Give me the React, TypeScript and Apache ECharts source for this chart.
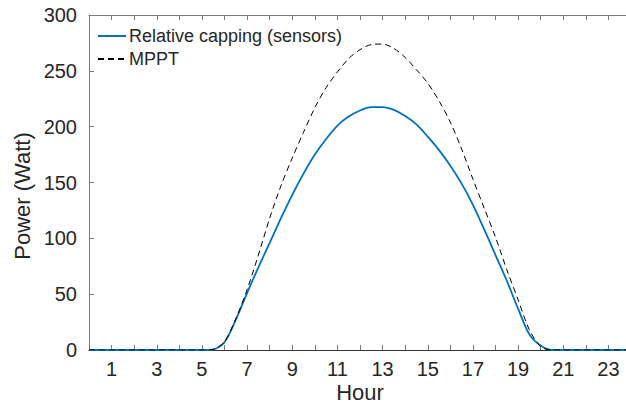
import React, { useEffect, useRef } from "react";
import * as echarts from "echarts";

const hours: number[] = [
  0, 0.5, 1, 1.5, 2, 2.5, 3, 3.5, 4, 4.5, 5, 5.5, 6, 6.5, 7, 7.5, 8, 8.5, 9, 9.5,
  10, 10.5, 11, 11.5, 12, 12.5, 13, 13.5, 14, 14.5, 15, 15.5, 16, 16.5, 17, 17.5,
  18, 18.5, 19, 19.5, 20, 20.5, 21, 21.5, 22, 22.5, 23, 23.5, 24,
];

const cappingSensors: number[] = [
  0, 0, 0, 0, 0, 0, 0, 0, 0, 0, 0, 0.5, 7, 27, 51, 74, 96, 118, 139, 158,
  175, 189, 201, 209, 214.5, 217.5, 217.5, 215, 209.5, 202, 191, 179, 165, 149, 130, 108,
  85, 62, 37, 14, 4, 0, 0, 0, 0, 0, 0, 0, 0,
];

const mppt: number[] = [
  0, 0, 0, 0, 0, 0, 0, 0, 0, 0, 0, 0.5, 7.5, 28, 54, 85, 118, 147, 172, 195,
  217, 235, 249, 261, 269, 273.5, 274, 270, 262, 251, 239, 223, 204, 180, 153, 127,
  101, 72, 45, 18, 3, 0, 0, 0, 0, 0, 0, 0, 0,
];

const seriesNames: string[] = ["Relative capping (sensors)", "MPPT"];
const xLabelHours: number[] = [1, 3, 5, 7, 9, 11, 13, 15, 17, 19, 21, 23];

const FONT = "'Liberation Sans', Arial, Helvetica, sans-serif";
const TEXT = "#262626";
const AXIS = "#7a7a7a";

export default function App() {
  const ref = useRef<HTMLDivElement>(null);
  useEffect(() => {
    if (!ref.current) return;
    const chart = echarts.init(ref.current, undefined, { renderer: "svg" });
    const pairs = (vals: number[]) => hours.map((h, i) => [h, vals[i]]);
    chart.setOption({
      animation: false,
      backgroundColor: "#ffffff",
      textStyle: { fontFamily: FONT, color: TEXT },
      grid: {
        left: 89,
        top: 15,
        right: -5,
        bottom: 54,
        containLabel: false,
        outerBoundsMode: "none",
      },
      legend: {
        orient: "vertical",
        left: 97,
        top: 27,
        itemWidth: 28,
        itemHeight: 10,
        itemGap: 5,
        padding: 0,
        itemStyle: { opacity: 0 },
        textStyle: { fontSize: 18, color: TEXT, fontFamily: FONT, padding: [0, 0, 0, -2] },
        data: seriesNames,
      },
      xAxis: [
        {
          type: "value",
          min: 0,
          max: 24,
          interval: 1,
          position: "bottom",
          name: "Hour",
          nameLocation: "middle",
          nameGap: 31,
          nameMoveOverlap: false,
          nameTextStyle: { fontSize: 22, lineHeight: 22, color: TEXT, fontFamily: FONT, verticalAlign: "top" },
          axisLine: { show: true, lineStyle: { color: "#333333", width: 1 } },
          axisTick: { show: true, inside: true, length: 5, lineStyle: { color: AXIS } },
          axisLabel: {
            fontSize: 20,
            color: TEXT,
            margin: 9,
            formatter: (v: number) => (xLabelHours.includes(v) ? String(v) : ""),
          },
          splitLine: { show: false },
        },
        {
          type: "value",
          min: 0,
          max: 24,
          interval: 1,
          position: "top",
          axisLine: { show: true, lineStyle: { color: AXIS, width: 1 } },
          axisTick: { show: true, inside: true, length: 5, lineStyle: { color: AXIS } },
          axisLabel: { show: false },
          splitLine: { show: false },
        },
      ],
      yAxis: [
        {
          type: "value",
          min: 0,
          max: 300,
          interval: 50,
          axisLine: { show: true, lineStyle: { color: AXIS, width: 1 } },
          axisTick: { show: true, inside: true, length: 5, lineStyle: { color: AXIS } },
          axisLabel: { fontSize: 20, color: TEXT, margin: 12 },
          splitLine: { show: false },
        },
      ],
      graphic: [
        {
          type: "text",
          x: 22,
          y: 196,
          rotation: Math.PI / 2,
          style: {
            text: "Power (Watt)",
            font: `22px ${FONT}`,
            fill: TEXT,
            textAlign: "center",
            textVerticalAlign: "middle",
          },
        },
      ],
      series: [
        {
          name: seriesNames[0],
          type: "line",
          xAxisIndex: 0,
          yAxisIndex: 0,
          data: pairs(cappingSensors),
          symbol: "none",
          showSymbol: false,
          smooth: 0.3,
          lineStyle: { color: "#0072BD", width: 1.8 },
          itemStyle: { color: "#0072BD" },
          z: 2,
        },
        {
          name: seriesNames[1],
          type: "line",
          xAxisIndex: 0,
          yAxisIndex: 0,
          data: pairs(mppt),
          symbol: "none",
          showSymbol: false,
          smooth: 0.3,
          lineStyle: { color: "#000000", width: 1, type: [6, 4] },
          itemStyle: { color: "#000000" },
          z: 3,
        },
      ],
    });
    return () => chart.dispose();
  }, []);
  return (
    <div
      ref={ref}
      style={{ position: "fixed", left: 0, top: 0, width: 626, height: 404, background: "#fff" }}
    />
  );
}
